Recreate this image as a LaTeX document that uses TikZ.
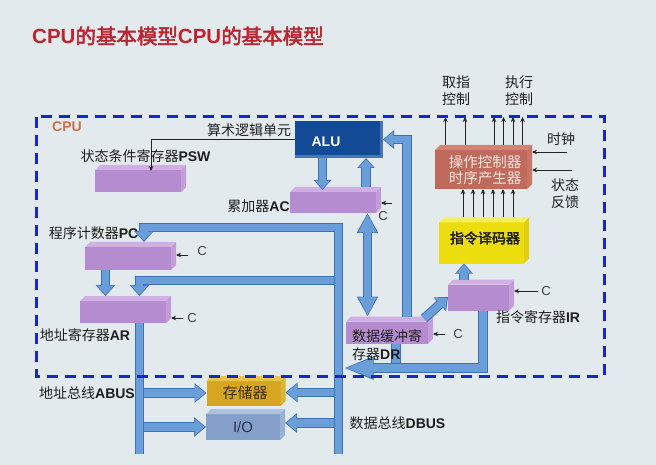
\documentclass[tikz,border=0pt]{standalone}
\usepackage{fontspec}
\setmainfont{Liberation Sans}
\newfontfamily\cjk[AutoFakeBold=2.5]{Noto Sans CJK SC}
\usetikzlibrary{arrows.meta,calc}

\pgfdeclarelayer{bg}
\pgfdeclarelayer{faces}
\pgfsetlayers{bg,faces,main}

\definecolor{pagebg}{RGB}{227,234,237}
\definecolor{titlered}{RGB}{188,36,48}
\definecolor{cpuorange}{RGB}{204,112,72}
\definecolor{dashblue}{RGB}{24,40,196}
\definecolor{labelgray}{RGB}{30,30,30}
\definecolor{arrowgray}{RGB}{35,35,35}
\definecolor{busin}{RGB}{106,158,216}
\definecolor{busout}{RGB}{64,112,180}
\definecolor{regfront}{RGB}{182,140,208}
\definecolor{regtop}{RGB}{208,176,228}
\definecolor{regside}{RGB}{196,156,218}
\definecolor{decfront}{RGB}{236,222,14}
\definecolor{dectop}{RGB}{248,240,90}
\definecolor{decside}{RGB}{226,208,12}
\definecolor{ctlfront}{RGB}{192,106,94}
\definecolor{ctltop}{RGB}{210,132,116}
\definecolor{ctlside}{RGB}{200,116,102}
\definecolor{ctltext}{RGB}{246,228,218}
\definecolor{memfront}{RGB}{214,166,34}
\definecolor{memtop}{RGB}{232,196,72}
\definecolor{memside}{RGB}{222,180,52}
\definecolor{iofront}{RGB}{132,160,202}
\definecolor{iotop}{RGB}{172,194,224}
\definecolor{ioside}{RGB}{152,178,214}
\definecolor{alublue}{RGB}{18,74,150}
\definecolor{alubevel}{RGB}{70,118,184}

% a box seen slightly from above and from the right: front, top and side faces
\newcommand\solidbox[4]{%
  \begin{pgfonlayer}{faces}
    \fill[#2] ([yshift=-5pt]#1.north west) rectangle ([xshift=-5pt]#1.south east);
    \fill[#3] ([yshift=-5pt]#1.north west) -- ([xshift=5pt]#1.north west) -- (#1.north east)
      -- ([xshift=-5pt,yshift=-5pt]#1.north east) -- cycle;
    \fill[#4] ([xshift=-5pt,yshift=-5pt]#1.north east) -- (#1.north east)
      -- ([yshift=5pt]#1.south east) -- ([xshift=-5pt]#1.south east) -- cycle;
  \end{pgfonlayer}}

\tikzset{
  slot/.style={rectangle, inner sep=0pt, outer sep=0pt},
  lbl/.style={font=\fontsize{14}{16}\selectfont, text=labelgray, inner sep=0pt},
  clbl/.style={font=\fontsize{13}{15}\selectfont, text=labelgray!85, inner sep=0pt},
  bar/.style={draw=busin, line width=7.5pt, preaction={draw=busout, line width=9.5pt}},
  busarr/.style n args={4}{draw=busin, line width=7.5pt,
    -{Triangle[width=#1pt,length=#2pt]}, shorten >=1.3pt,
    preaction={draw=busout, line width=9.5pt, shorten >=0pt,
      -{Triangle[width=#3pt,length=#4pt]}}},
  busdbl/.style n args={4}{draw=busin, line width=7.5pt,
    {Triangle[width=#1pt,length=#2pt]}-{Triangle[width=#1pt,length=#2pt]},
    shorten >=1.3pt, shorten <=1.3pt,
    preaction={draw=busout, line width=9.5pt, shorten >=0pt, shorten <=0pt,
      {Triangle[width=#3pt,length=#4pt]}-{Triangle[width=#3pt,length=#4pt]}}},
  thinarr/.style={draw=arrowgray, line width=0.9pt, -{Stealth[length=5pt,width=4.5pt]}},
  cpuframe/.style={draw=dashblue, line width=3pt, dash pattern=on 11pt off 7pt},
}

\begin{document}
\begin{tikzpicture}[x=1pt,y=-1pt]
\useasboundingbox (0,0) rectangle (656,465);
\begin{pgfonlayer}{bg}
  \fill[pagebg] (0,0) rectangle (656,465);
\end{pgfonlayer}

% ---------- blocks ----------
\node[slot, minimum width=568pt, minimum height=259pt] (cpu) at (320,246.5) {};

\node[slot, minimum width=88pt, minimum height=37pt] (alu) at (339,139.5) {};
\begin{pgfonlayer}{faces}
  \fill[alubevel] (alu.north west) rectangle (alu.south east);
  \fill[alublue] (alu.north west) rectangle ([xshift=-3pt,yshift=3pt]alu.south east);
\end{pgfonlayer}

\node[slot, minimum width=91pt, minimum height=27pt] (psw) at (140.5,178.5) {};
\solidbox{psw}{regfront}{regtop}{regside}
\node[slot, minimum width=91pt, minimum height=26pt] (ac) at (335.5,200) {};
\solidbox{ac}{regfront}{regtop}{regside}
\node[slot, minimum width=91pt, minimum height=28pt] (pc) at (130.5,256) {};
\solidbox{pc}{regfront}{regtop}{regside}
\node[slot, minimum width=91pt, minimum height=27pt] (ar) at (125.5,309.5) {};
\solidbox{ar}{regfront}{regtop}{regside}
\node[slot, minimum width=87pt, minimum height=27pt] (dr) at (389.5,330) {};
\solidbox{dr}{regfront}{regtop}{regside}
\node[slot, minimum width=66pt, minimum height=31pt] (ir) at (481,295) {};
\solidbox{ir}{regfront}{regtop}{regside}

\node[slot, minimum width=90pt, minimum height=46pt] (dec) at (484,240.5) {};
\solidbox{dec}{decfront}{dectop}{decside}
\node[slot, minimum width=97pt, minimum height=44pt] (ctl) at (483.5,167) {};
\solidbox{ctl}{ctlfront}{ctltop}{ctlside}

\node[slot, minimum width=79pt, minimum height=30pt] (mem) at (246,391) {};
\solidbox{mem}{memfront}{memtop}{memside}
\node[slot, minimum width=79pt, minimum height=31pt] (io) at (245.5,424.5) {};
\solidbox{io}{iofront}{iotop}{ioside}

% ---------- free ends ----------
\coordinate (abus) at (139.5,454);
\coordinate (dbus) at (338.5,454);
\coordinate (pcloop) at (338.5,227.5);
\coordinate (arloop) at (338.5,280.5);
\coordinate (dbusin) at (343.5,368);
\coordinate (pswin) at (151,171);
\coordinate (clk) at (567,152);
\coordinate (stat) at (572,170);
\coordinate (cac) at (392,203);
\coordinate (cpc) at (188,255);
\coordinate (car) at (183,318);
\coordinate (cdr) at (445,334);
\coordinate (cir) at (538,291);
\path ([xshift=6.5pt]dr.south) coordinate (drs);

% ---------- thin control lines ----------
\draw[thinarr] (alu.west) -| (pswin);
\foreach \dx in {-21,-11,-1,9,19,29}
  \draw[thinarr] ($(dec.north)+(\dx,0)$) -- ($(ctl.south)+(\dx+0.5,0)$);
\foreach \dx in {-38,-18.5,10.5,20,29.5,39}
  \draw[thinarr] let \p1=($(ctl.north)+(\dx,0)$), \p2=(cpu.north) in (\p1) -- (\x1,\y2);
\draw[thinarr] (clk) -- (clk -| ctl.east);
\draw[thinarr] (stat) -- (stat -| ctl.east);
\draw[thinarr] (cac) -- (cac -| ac.east);
\draw[thinarr] (cpc) -- (cpc -| pc.east);
\draw[thinarr] (car) -- (car -| ar.east);
\draw[thinarr] (cdr) -- (cdr -| dr.east);
\draw[thinarr] (cir) -- (cir -| ir.east);

% ---------- buses ----------
\draw[busarr={16}{10}{19}{12}] ([yshift=-2pt]abus |- mem.west) -- ([yshift=-2pt]mem.west);
\draw[busarr={16}{10}{19}{12}] ([yshift=-2.5pt]abus |- io.west) -- ([yshift=-2.5pt]io.west);
\draw[busarr={16}{10}{19}{12}] ([yshift=-1.5pt]dbus |- mem.east) -- ([yshift=-1.5pt]mem.east);
\draw[busarr={16}{10}{19}{12}] ([yshift=1.5pt]dbus |- io.east) -- ([yshift=1.5pt]io.east);
\draw[busarr={16}{9}{19}{11}] (arloop) -| ([xshift=14pt]ar.north);
\draw[bar] ([xshift=14pt]ar.south) -- (abus);
\draw[busarr={16}{9}{19}{11}] (dbus) -- (pcloop) -| ([xshift=13.5pt]pc.north);
\draw[busarr={16}{9}{19}{11}] ([xshift=-25pt]pc.south) -- ([xshift=-20pt]ar.north);

\draw[busarr={14}{8}{17}{10}] ([xshift=-16.5pt]alu.south) -- ([xshift=-13pt,yshift=-3pt]ac.north);
\draw[busarr={14}{8}{17}{10}] ([xshift=30.5pt]ac.north) -- ([xshift=27pt]alu.south);
\draw[busdbl={17}{18}{20}{20}] ([xshift=32pt]ac.south) -- ([xshift=-22pt]dr.north);
\draw[busarr={15}{9}{18}{11}] ([xshift=17.5pt]dr.north) |- (alu.east);

\draw[bar] (drs) -- (drs |- dbusin);
\draw[busarr={18}{28}{21}{30}] ([xshift=2pt]ir.south) |- (dbusin);
\draw[busarr={15}{9}{18}{11}] ([xshift=-9pt,yshift=-2pt]dr.north east) -- ([yshift=-2pt]ir.west);
\draw[busarr={14}{8}{17}{10}] ([xshift=-17pt]ir.north) -- ([xshift=-20pt]dec.south);

% ---------- texts ----------
\node[anchor=west, inner sep=0pt, text=titlered, font=\fontsize{20.5}{24}\selectfont\bfseries] (title) at (32,36)
  {CPU{\cjk 的基本模型}CPU{\cjk 的基本模型}};
\node[inner sep=0pt, text=cpuorange, font=\fontsize{14}{16}\selectfont\bfseries] (cpulbl) at (67,127) {CPU};

\node[inner sep=0pt, text=white, font=\fontsize{14}{16}\selectfont\bfseries] (alutext) at (326,142) {ALU};
\node[lbl] (alulbl) at (249,130.5) {\cjk 算术逻辑单元};
\node[lbl] (pswlbl) at (145.5,156) {{\cjk 状态条件寄存器}\textbf{PSW}};
\node[lbl] (aclbl) at (258.5,206.5) {{\cjk 累加器}\textbf{AC}};
\node[lbl] (pclbl) at (93.5,233) {{\cjk 程序计数器}\textbf{PC}};
\node[lbl] (arlbl) at (85,335) {{\cjk 地址寄存器}\textbf{AR}};
\node[lbl] (irlbl) at (538,317) {{\cjk 指令寄存器}\textbf{IR}};
\node[lbl, anchor=west] (drlbla) at (352,336) {\cjk 数据缓冲寄};
\node[lbl, anchor=west] (drlblb) at (352,354) {{\cjk 存器}\textbf{DR}};

\node[lbl, font=\fontsize{14}{16}\selectfont\cjk\bfseries] (dectext) at (485,238) {指令译码器};
\node[lbl, text=ctltext, align=center, font=\fontsize{14.5}{16.5}\selectfont\cjk] (ctltxt) at (485,170)
  {操作控制器\\时序产生器};
\node[lbl, text={rgb,255:red,60;green,45;blue,20}, font=\fontsize{15}{17}\selectfont\cjk] (memtext) at (245,393) {存储器};
\node[lbl, text={rgb,255:red,40;green,50;blue,80}, font=\fontsize{15}{17}\selectfont] (iotext) at (243,427) {I/O};

\node[lbl] (abuslbl) at (87,393) {{\cjk 地址总线}\textbf{ABUS}};
\node[lbl] (dbuslbl) at (397.5,423) {{\cjk 数据总线}\textbf{DBUS}};

\node[lbl, align=center, font=\fontsize{14}{17}\selectfont\cjk] (fetchlbl) at (456,90.5) {取指\\控制};
\node[lbl, align=center, font=\fontsize{14}{17}\selectfont\cjk] (execlbl) at (519,90.5) {执行\\控制};
\node[lbl, font=\fontsize{14}{17}\selectfont\cjk] (clklbl) at (561,139) {时钟};
\node[lbl, align=center, font=\fontsize{14}{17}\selectfont\cjk] (statlbl) at (565,193.5) {状态\\反馈};

\node[clbl] (cacl) at (383,216) {C};
\node[clbl] (cpcl) at (202,251) {C};
\node[clbl] (carl) at (192,318) {C};
\node[clbl] (cdrl) at (458,334) {C};
\node[clbl] (cirl) at (546,291) {C};

% ---------- CPU boundary ----------
\draw[cpuframe] (cpu.north west) rectangle (cpu.south east);
\end{tikzpicture}
\end{document}
